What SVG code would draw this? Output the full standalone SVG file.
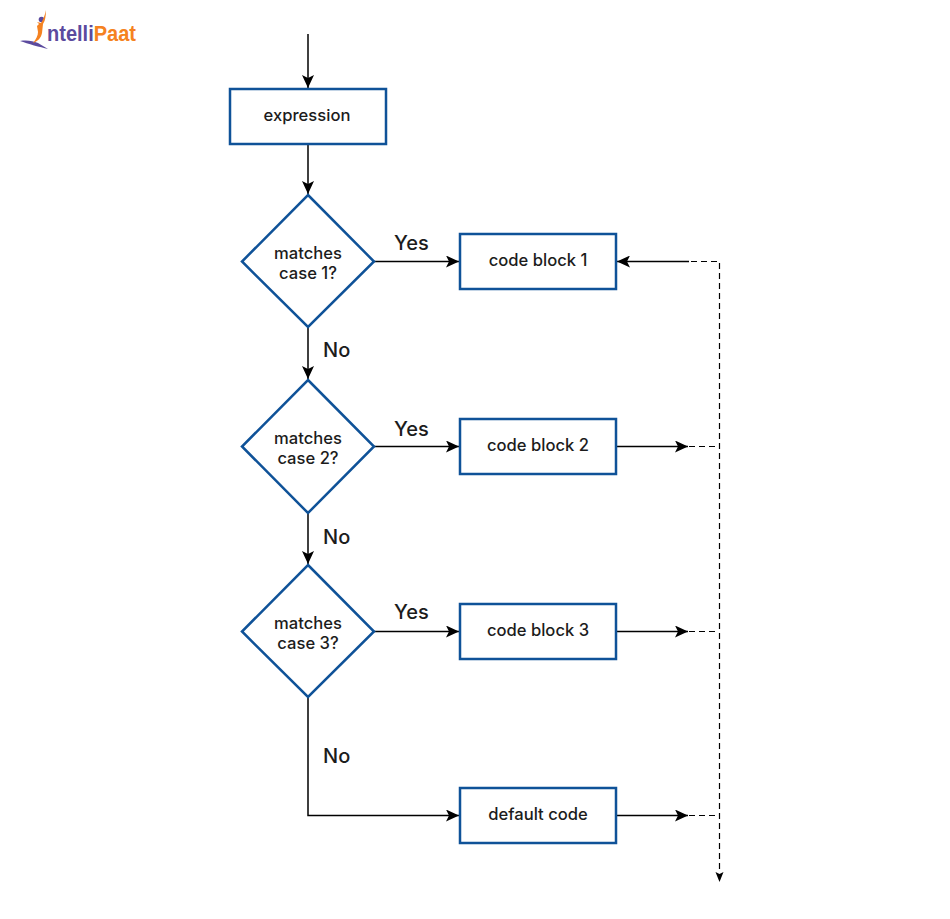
<svg xmlns="http://www.w3.org/2000/svg" width="950" height="919" viewBox="0 0 950 919">
<style>
.box{fill:#fff;stroke:#0f5298;stroke-width:2.5}
.t{font-family:Inter,"Noto Sans","Liberation Sans",sans-serif;font-size:16.6px;font-weight:500;fill:#1c1c1c;text-anchor:middle}
.l{font-family:Inter,"Noto Sans","Liberation Sans",sans-serif;font-size:20px;font-weight:500;fill:#1c1c1c}
.c{fill:none;stroke:#000;stroke-width:1.5}
.d{fill:none;stroke:#000;stroke-width:1.2;stroke-dasharray:6 4}
.lg{font-family:"Liberation Sans",Arial,sans-serif;font-size:22px;font-weight:700}
</style>
<defs>
<marker id="a" markerUnits="userSpaceOnUse" markerWidth="14" markerHeight="12" refX="13" refY="6" orient="auto"><path d="M0 0L13 6L0 12L3 6Z" fill="#000"/></marker>
</defs>
<rect width="950" height="919" fill="#fff"/>
<g id="logo">
<path d="M20 41C27 40 33 41 38 43L48 49C40 47 28 44 20 41Z" fill="#5b4a9e"/>
<circle cx="41.500" cy="19.500" r="2.800" fill="#5b4a9e"/>
<path d="M46 10C46 16 45 21 43 24L42 33C41 38 38 41 33 43C36 39 38 36 38 32L37 26L39 24L37 22L41 23C43 20 45 15 46 10Z" fill="#f58220"/>
<text class="lg" x="47" y="41" textLength="89" lengthAdjust="spacingAndGlyphs"><tspan fill="#5b4a9e">ntelli</tspan><tspan fill="#f58220">Paat</tspan></text>
</g>
<g id="connectors">
<path class="c" d="M308 34V88" marker-end="url(#a)"/>
<path class="c" d="M308 144V194" marker-end="url(#a)"/>
<path class="c" d="M308 327V379" marker-end="url(#a)"/>
<path class="c" d="M308 513V564" marker-end="url(#a)"/>
<path class="c" d="M308 697V815.500H459" marker-end="url(#a)"/>
<path class="c" d="M374 261.500H459" marker-end="url(#a)"/>
<path class="c" d="M374 446.500H459" marker-end="url(#a)"/>
<path class="c" d="M374 631.500H459" marker-end="url(#a)"/>
<path class="c" d="M689 261.500H617" marker-end="url(#a)"/>
<path class="c" d="M616 446.500H688" marker-end="url(#a)"/>
<path class="c" d="M616 631.500H688" marker-end="url(#a)"/>
<path class="c" d="M616 815.500H688" marker-end="url(#a)"/>
<path class="d" d="M691 261.500H719.500V872"/>
<path class="d" d="M689 446.500H719"/>
<path class="d" d="M689 631.500H719"/>
<path class="d" d="M689 815.500H719"/>
<path d="M715.500 872L719.500 874L723.500 872L719.500 882Z" fill="#000"/>
</g>
<g id="n-expression"><rect class="box" x="230" y="89" width="156" height="55"/><text class="t" x="307" y="121">expression</text></g>
<g id="n-case1"><path class="box" d="M308 195L374 261.500L308 327L242 261.500Z"/><text class="t" x="308" y="259">matches</text><text class="t" x="308" y="279">case 1?</text></g>
<g id="n-case2"><path class="box" d="M308 380L374 446.500L308 513L242 446.500Z"/><text class="t" x="308" y="444">matches</text><text class="t" x="308" y="464">case 2?</text></g>
<g id="n-case3"><path class="box" d="M308 565L374 631.500L308 697L242 631.500Z"/><text class="t" x="308" y="629">matches</text><text class="t" x="308" y="649">case 3?</text></g>
<g id="n-block1"><rect class="box" x="460" y="234" width="156" height="55"/><text class="t" x="538" y="266">code block 1</text></g>
<g id="n-block2"><rect class="box" x="460" y="419" width="156" height="55"/><text class="t" x="538" y="451">code block 2</text></g>
<g id="n-block3"><rect class="box" x="460" y="604" width="156" height="55"/><text class="t" x="538" y="636">code block 3</text></g>
<g id="n-default"><rect class="box" x="460" y="788" width="156" height="55"/><text class="t" x="538" y="820">default code</text></g>
<g id="labels">
<text class="l" x="394" y="250">Yes</text>
<text class="l" x="394" y="436">Yes</text>
<text class="l" x="394" y="619">Yes</text>
<text class="l" x="323" y="357">No</text>
<text class="l" x="323" y="544">No</text>
<text class="l" x="323" y="763">No</text>
</g>
</svg>
